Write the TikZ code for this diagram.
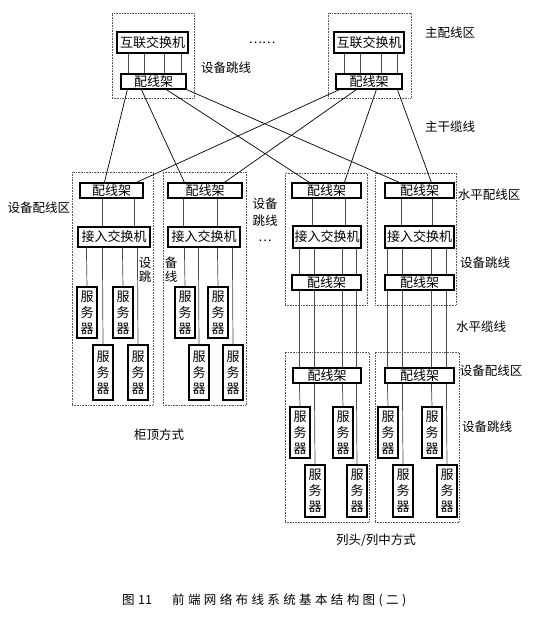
\documentclass[tikz,border=0pt]{standalone}
\usepackage{fontspec}
\setmainfont{Noto Sans CJK SC}
\newfontfamily\capfont[LetterSpace=27]{Noto Sans CJK SC}
\usetikzlibrary{calc}
\newcommand\bxn[7]{\node[#6, minimum width={#4-#2}, minimum height={#5-#3}] (#1) at ({(#2+#4)/2},{(#3+#5)/2}) {#7};}
\begin{document}
\begin{tikzpicture}[x=1pt,y=-1pt,
  lbl/.style={inner sep=0pt, font=\fontsize{12.5}{14}\selectfont},
  box/.style={draw, line width=1.2pt, fill=white, inner sep=0pt, font=\fontsize{13}{14}\selectfont},
  srv/.style={box, align=center, font=\fontsize{13}{16}\selectfont},
  zone/.style={draw=black!65, densely dotted, line width=0.6pt, inner sep=0pt},
  wire/.style={draw=black!70, line width=0.7pt},
  trunk/.style={draw=black, line width=0.7pt}]
\fill[white] (0,0) rectangle (535,619);
\useasboundingbox (0,0) rectangle (535,619);
% zones
\bxn{zTL}{112}{13}{194}{98}{zone}{}
\bxn{zTR}{328}{13}{411}{98}{zone}{}
\bxn{zA}{72}{172}{153}{405}{zone}{}
\bxn{zB}{163}{172}{246}{405}{zone}{}
\bxn{zC}{285}{173}{367}{305}{zone}{}
\bxn{zD}{375}{173}{456}{305}{zone}{}
\bxn{zE}{285}{352}{369}{522}{zone}{}
\bxn{zF}{375}{352}{459}{522}{zone}{}
% top
\bxn{hTL}{117}{32}{188}{53}{box}{互联交换机}
\bxn{pTL}{121}{74}{186}{89}{box}{配线架}
\bxn{hTR}{334}{32}{404}{53}{box}{互联交换机}
\bxn{pTR}{336}{74}{402}{89}{box}{配线架}
% A
\bxn{pA}{80}{183}{143}{198}{box}{配线架}
\bxn{sA}{78}{227}{150}{247}{box}{接入交换机}
\bxn{A1}{77}{287}{97}{338}{srv}{服\\务\\器}
\bxn{A2}{113}{287}{133}{338}{srv}{服\\务\\器}
\bxn{A3}{93}{345}{113}{400}{srv}{服\\务\\器}
\bxn{A4}{128}{345}{148}{400}{srv}{服\\务\\器}
% B
\bxn{pB}{168}{183}{242}{198}{box}{配线架}
\bxn{sB}{168}{227}{240}{247}{box}{接入交换机}
\bxn{B1}{175}{287}{195}{338}{srv}{服\\务\\器}
\bxn{B2}{208}{287}{228}{338}{srv}{服\\务\\器}
\bxn{B3}{189}{345}{209}{400}{srv}{服\\务\\器}
\bxn{B4}{223}{345}{243}{400}{srv}{服\\务\\器}
% C
\bxn{pC}{292}{183}{361}{198}{box}{配线架}
\bxn{sC}{293}{226}{361}{248}{box}{接入交换机}
\bxn{qC}{292}{275}{361}{290}{box}{配线架}
% D
\bxn{pD}{385}{183}{454}{198}{box}{配线架}
\bxn{sD}{385}{226}{454}{248}{box}{接入交换机}
\bxn{qD}{385}{275}{454}{290}{box}{配线架}
% E
\bxn{pE}{293}{368}{361}{383}{box}{配线架}
\bxn{E1}{290}{407}{310}{458}{srv}{服\\务\\器}
\bxn{E2}{305}{465}{325}{517}{srv}{服\\务\\器}
\bxn{E3}{333}{407}{353}{458}{srv}{服\\务\\器}
\bxn{E4}{347}{465}{367}{517}{srv}{服\\务\\器}
% F
\bxn{pF}{385}{368}{454}{383}{box}{配线架}
\bxn{F1}{378}{407}{398}{458}{srv}{服\\务\\器}
\bxn{F2}{393}{465}{413}{517}{srv}{服\\务\\器}
\bxn{F3}{422}{407}{442}{458}{srv}{服\\务\\器}
\bxn{F4}{437}{465}{457}{517}{srv}{服\\务\\器}
% top verticals
\foreach \a/\b in {12/8,28/24,48/44,65/61}
  \draw[wire] ($(hTL.south west)+(\a,0)$) -- ($(pTL.north west)+(\b,0)$);
\foreach \a/\b in {11/9,27/25,48/46,64/62}
  \draw[wire] ($(hTR.south west)+(\a,0)$) -- ($(pTR.north west)+(\b,0)$);
% trunk cables
\draw[trunk] ($(pTL.south west)+(7,0)$) -- ($(pA.north west)+(25,0)$);
\draw[trunk] ($(pTL.south west)+(21,0)$) -- ($(pB.north west)+(17,0)$);
\draw[trunk] ($(pTL.south west)+(46,0)$) -- ($(pC.north west)+(18,0)$);
\draw[trunk] (pTL.south east) -- ($(pD.north west)+(15,0)$);
\draw[trunk] ($(pTR.south west)+(4,0)$) -- ($(pA.north west)+(57,0)$);
\draw[trunk] ($(pTR.south west)+(21,0)$) -- ($(pB.north west)+(57,0)$);
\draw[trunk] ($(pTR.south west)+(41,0)$) -- ($(pC.north west)+(53,0)$);
\draw[trunk] ($(pTR.south west)+(62,0)$) -- ($(pD.north west)+(47,0)$);
% A wiring
\foreach \a/\b in {23/25,55/57}
  \draw[wire] ($(pA.south west)+(\a,0)$) -- ($(sA.north west)+(\b,0)$);
\draw[wire] ($(sA.south west)+(9,0)$) -- (A1.north);
\draw[wire] ($(sA.south west)+(25,0)$) -- (A3.north);
\draw[wire] ($(sA.south west)+(45,0)$) -- (A2.north);
\draw[wire] ($(sA.south west)+(60,0)$) -- (A4.north);
% B wiring
\foreach \a in {16,50}
  \draw[wire] ($(pB.south west)+(\a,0)$) -- ($(sB.north west)+(\a,0)$);
\draw[wire] ($(sB.south west)+(17,0)$) -- (B1.north);
\draw[wire] ($(sB.south west)+(31,0)$) -- (B3.north);
\draw[wire] ($(sB.south west)+(50,0)$) -- (B2.north);
\draw[wire] ($(sB.south west)+(65,0)$) -- (B4.north);
% C wiring
\foreach \a/\b in {21/20,54/53}
  \draw[wire] ($(pC.south west)+(\a,0)$) -- ($(sC.north west)+(\b,0)$);
\foreach \a/\b in {7/8,22/23,50/51,64/65}
  \draw[wire] ($(sC.south west)+(\a,0)$) -- ($(qC.north west)+(\b,0)$);
\foreach \a/\b in {8/7,23/22,51/50,65/64}
  \draw[wire] ($(qC.south west)+(\a,0)$) -- ($(pE.north west)+(\b,0)$);
\draw[wire] ($(pE.south west)+(7,0)$) -- (E1.north);
\draw[wire] ($(pE.south west)+(22,0)$) -- (E2.north);
\draw[wire] ($(pE.south west)+(50,0)$) -- (E3.north);
\draw[wire] ($(pE.south west)+(64,0)$) -- (E4.north);
% D wiring
\foreach \a in {17,48}
  \draw[wire] ($(pD.south west)+(\a,0)$) -- ($(sD.north west)+(\a,0)$);
\foreach \a in {3,18,47,62}
  \draw[wire] ($(sD.south west)+(\a,0)$) -- ($(qD.north west)+(\a,0)$);
\foreach \a in {3,18,47,62}
  \draw[wire] ($(qD.south west)+(\a,0)$) -- ($(pF.north west)+(\a,0)$);
\draw[wire] ($(pF.south west)+(3,0)$) -- (F1.north);
\draw[wire] ($(pF.south west)+(18,0)$) -- (F2.north);
\draw[wire] ($(pF.south west)+(47,0)$) -- (F3.north);
\draw[wire] ($(pF.south west)+(62,0)$) -- (F4.north);
% labels
\node[lbl] (l1) at (450,33) {主配线区};
\node[lbl] (l2) at (450,127) {主干缆线};
\node[lbl] (l3) at (226,68) {设备跳线};
\node[lbl] (l4) at (262,43) {……};
\node[lbl] (l5) at (39,208) {设备配线区};
\node[lbl, align=center, font=\fontsize{12.5}{16.5}\selectfont] (l6) at (265,220) {设备\\跳线\\…};
\node[lbl, align=center, font=\fontsize{12.5}{14}\selectfont] (l7) at (145,270) {设\\跳};
\node[lbl, align=center, font=\fontsize{12.5}{14}\selectfont] (l8) at (171,270) {备\\线};
\node[lbl] (l9) at (489,195) {水平配线区};
\node[lbl] (l10) at (485,263) {设备跳线};
\node[lbl] (l11) at (481,327) {水平缆线};
\node[lbl] (l12) at (491,371) {设备配线区};
\node[lbl] (l13) at (487,427) {设备跳线};
\node[lbl] (l14) at (159,435) {柜顶方式};
\node[lbl] (l15) at (376,540) {列头/列中方式};
\node[inner sep=0pt, anchor=west, font=\fontsize{12.5}{14}\selectfont] (cap0) at (122,600) {图};
\node[inner sep=0pt, anchor=west, font=\fontsize{12.5}{14}\selectfont] (cap1) at (138,600) {11};
\node[inner sep=0pt, anchor=west, font=\fontsize{12.5}{14}\capfont] (cap2) at (172,600) {前端网络布线系统基本结构图(二)};
\end{tikzpicture}
\end{document}
